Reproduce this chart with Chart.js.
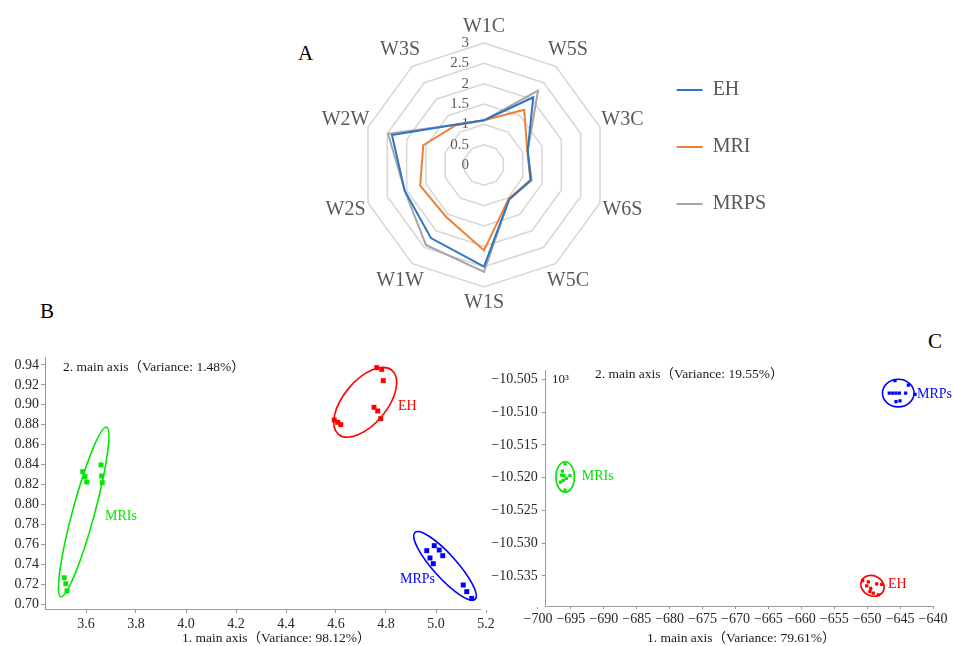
<!DOCTYPE html>
<html>
<head>
<meta charset="utf-8">
<script src="https://cdn.jsdelivr.net/npm/chart.js@4.4.1/dist/chart.umd.min.js"></script>
<style>
  html, body { margin: 0; padding: 0; background: #fff; }
  body { width: 953px; height: 646px; position: relative; overflow: hidden; font-family: "Liberation Serif", serif; }
  .panel { position: absolute; }
  .tag { position: absolute; font-size: 21px; line-height: 1; color: #000; }
</style>
</head>
<body>
<div class="tag" style="left:298px; top:43px">A</div>
<div class="tag" style="left:40px; top:301px">B</div>
<div class="tag" style="left:928px; top:331px">C</div>
<div class="panel" style="left:290px; top:0; width:490px; height:320px"><canvas id="radar"></canvas></div>
<div class="panel" style="left:0; top:330px; width:500px; height:316px"><canvas id="pcaB"></canvas></div>
<div class="panel" style="left:485px; top:330px; width:468px; height:316px"><canvas id="pcaC"></canvas></div>
<script>
// ---- panel A: radar ----
const attributes = ["W1C", "W5S", "W3C", "W6S", "W5C", "W1S", "W1W", "W2S", "W2W", "W3S"];
const ehValues   = [1.10, 2.06, 1.13, 1.21, 1.05, 2.50, 2.22, 2.05, 2.38, 1.22];
const mriValues  = [1.10, 1.68, 1.12, 1.20, 1.03, 2.10, 1.58, 1.65, 1.57, 1.20];
const mrpsValues = [1.10, 2.26, 1.13, 1.23, 1.05, 2.63, 2.43, 2.05, 2.48, 1.22];
const radarTicks = [0, 0.5, 1, 1.5, 2, 2.5, 3];

// ---- panel B: PCA ----
const bEhX  = [4.763, 4.783, 4.789, 4.752, 4.767, 4.779, 4.593, 4.607, 4.619];
const bEhY  = [0.9373, 0.9356, 0.9243, 0.8975, 0.8938, 0.8861, 0.8848, 0.8824, 0.8801];
const bMriX = [3.587, 3.596, 3.603, 3.660, 3.663, 3.665, 3.513, 3.519, 3.524];
const bMriY = [0.8329, 0.8279, 0.8225, 0.8396, 0.8285, 0.8218, 0.7264, 0.7204, 0.7131];
const bMrpX = [4.963, 4.993, 5.013, 5.027, 4.976, 4.989, 5.109, 5.123, 5.143];
const bMrpY = [0.7536, 0.7586, 0.7542, 0.7485, 0.7462, 0.7405, 0.7191, 0.7124, 0.7057];
// ellipse: centre x, centre y, then two half-axis vectors (data units)
const bEllEh  = [4.717, 0.9025, 0.107, 0.0321, 0.0664, -0.0140];
const bEllMri = [3.5907, 0.7924, 0.0915, 0.0850, 0.0425, -0.00288];
const bEllMrp = [5.036, 0.7382, 0.1204, -0.0336, -0.0347, -0.00783];
const bLabelX = [4.848, 3.676, 4.856];
const bLabelY = [0.8988, 0.7884, 0.7251];
const bXTicks = [3.6, 3.8, 4.0, 4.2, 4.4, 4.6, 4.8, 5.0, 5.2];
const bYTicks = [0.70, 0.72, 0.74, 0.76, 0.78, 0.80, 0.82, 0.84, 0.86, 0.88, 0.90, 0.92, 0.94];

// ---- panel C: PCA ----
const cEhX  = [-650.68, -649.83, -648.55, -647.79, -650.07, -649.46, -649.57, -648.31, -649.07];
const cEhY  = [-10.5357, -10.5359, -10.5362, -10.5363, -10.5365, -10.5369, -10.5374, -10.5379, -10.5376];
const cMriX = [-695.9, -696.4, -696.05, -696.16, -696.55, -695.14, -695.9, -696.3, -695.7];
const cMriY = [-10.5179, -10.5196, -10.5197, -10.5204, -10.5207, -10.5197, -10.5219, -10.5190, -10.5201];
const cMrpX = [-645.77, -643.75, -646.64, -646.12, -645.62, -645.12, -644.15, -642.73, -645.62, -645.01];
const cMrpY = [-10.5052, -10.5059, -10.5071, -10.5071, -10.5071, -10.5071, -10.5071, -10.5073, -10.5084, -10.5083];
const cEllEh  = [-649.19, -10.5365, 1.656, -0.00078, -0.638, -0.00139];
const cEllMri = [-695.87, -10.5199, 1.40, 0, 0, 0.00233];
const cEllMrp = [-645.28, -10.5071, 2.40, 0, 0, 0.0021];
const cLabelX = [-646.83, -693.36, -642.43];
const cLabelY = [-10.53622, -10.51986, -10.50724];
const cXTicks = [-700, -695, -690, -685, -680, -675, -670, -665, -660, -655, -650, -645, -640];
const cYTicks = [-10.535, -10.530, -10.525, -10.520, -10.515, -10.510, -10.505];

const groupNames = ["EH", "MRIs", "MRPs"];
const groupColors = ["#ff0000", "#00e600", "#0000ff"];

const SERIF = '"Liberation Serif", "Noto Sans CJK SC", serif';
Chart.defaults.font.family = SERIF;
Chart.defaults.animation = false;
Chart.defaults.events = [];
Chart.defaults.plugins.tooltip.enabled = false;

// tick numbers and point labels for the radar (drawn from the scale)
const radarText = {
    id: "radarText",
    beforeDatasetsDraw(chart) {
        const r = chart.scales.r, ctx = chart.ctx;
        ctx.save();
        ctx.fillStyle = "#595959";
        ctx.textBaseline = "middle";
        ctx.font = "15px " + SERIF;
        ctx.textAlign = "right";
        radarTicks.forEach(v => {
            ctx.fillText(String(v), r.xCenter - 15, r.yCenter - r.getDistanceFromCenterForValue(v));
        });
        ctx.font = "20px " + SERIF;
        ctx.textAlign = "center";
        attributes.forEach((name, i) => {
            const a = r.getIndexAngle(i);
            const p = r.getPointPosition(i, r.drawingArea + 16 + 8 * Math.abs(Math.sin(a)));
            ctx.fillText(name, p.x, p.y);
        });
        ctx.restore();
    }
};

new Chart(document.getElementById("radar"), {
    type: "radar",
    data: {
        labels: attributes,
        datasets: [
            { label: "EH", data: ehValues, borderColor: "#2f75c5", backgroundColor: "#2f75c5", borderWidth: 2, pointRadius: 0, fill: false, clip: false },
            { label: "MRI", data: mriValues, borderColor: "#f07f32", backgroundColor: "#f07f32", borderWidth: 2, pointRadius: 0, fill: false, clip: false },
            { label: "MRPS", data: mrpsValues, borderColor: "#a5a5a5", backgroundColor: "#a5a5a5", borderWidth: 2, pointRadius: 0, fill: false, clip: false },
        ],
    },
    options: {
        responsive: true,
        maintainAspectRatio: false,
        layout: { padding: { top: 43, right: 4 } },
        scales: {
            r: {
                min: 0,
                max: 3,
                ticks: { display: false, stepSize: 0.5 },
                grid: { color: "#d6d6d6", lineWidth: 1.5 },
                angleLines: { display: false },
                pointLabels: { display: false },
                // put the web where it sits in the figure
                afterFit: s => { s.xCenter = 194; s.yCenter = 165; s.drawingArea = 122; },
            },
        },
        plugins: {
            legend: {
                position: "right",
                align: "start",
                labels: {
                    usePointStyle: true,
                    pointStyle: "line",
                    pointStyleWidth: 26,
                    padding: 37,
                    color: "#595959",
                    font: { size: 20 },
                },
            },
        },
    },
    plugins: [radarText],
});

// ---- helpers for the two score plots ----
function points(xs, ys) {
    return xs.map((v, i) => ({ x: v, y: ys[i] }));
}

function scatterSet(label, xs, ys, color, radius) {
    return {
        label: label,
        data: points(xs, ys),
        backgroundColor: color,
        borderColor: color,
        borderWidth: 0,
        pointStyle: "rect",
        pointRadius: radius,
    };
}

// confidence ellipses, built in data space through the scales
function ellipsePlugin(ells) {
    return {
        id: "ellipses",
        afterDatasetsDraw(chart) {
            const { ctx, scales: { x, y } } = chart;
            ells.forEach((e, i) => {
                const cx = x.getPixelForValue(e[0]), cy = y.getPixelForValue(e[1]);
                const ux = x.getPixelForValue(e[0] + e[2]) - cx, uy = y.getPixelForValue(e[1] + e[3]) - cy;
                const vx = x.getPixelForValue(e[0] + e[4]) - cx, vy = y.getPixelForValue(e[1] + e[5]) - cy;
                ctx.save();
                ctx.beginPath();
                ctx.save();
                ctx.transform(ux, uy, vx, vy, cx, cy);
                ctx.arc(0, 0, 1, 0, 2 * Math.PI);
                ctx.restore();
                ctx.strokeStyle = groupColors[i];
                ctx.lineWidth = 1.6;
                ctx.stroke();
                ctx.restore();
            });
        },
    };
}

// group names next to clusters (data coords) and axis captions (offsets from the plot area)
function notesPlugin(labelX, labelY, captions) {
    return {
        id: "notes",
        afterDraw(chart) {
            const { ctx, chartArea, scales: { x, y } } = chart;
            ctx.save();
            ctx.textBaseline = "middle";
            ctx.textAlign = "left";
            ctx.font = "14px " + SERIF;
            groupNames.forEach((name, i) => {
                ctx.fillStyle = groupColors[i];
                ctx.fillText(name, x.getPixelForValue(labelX[i]), y.getPixelForValue(labelY[i]));
            });
            ctx.fillStyle = "#1a1a1a";
            captions.forEach(c => {
                ctx.font = c.size + "px " + SERIF;
                ctx.fillText(c.text, chartArea.left + c.dx, chartArea.top + c.dy);
            });
            ctx.restore();
        },
    };
}

function axis(min, max, tickList, digits, tickLen, pad, fitKey, fitSize) {
    return {
        type: "linear",
        min: min,
        max: max,
        afterBuildTicks: s => { s.ticks = tickList.map(v => ({ value: v })); },
        afterFit: s => { s[fitKey] = fitSize; },
        ticks: {
            autoSkip: false,
            maxRotation: 0,
            padding: pad,
            color: "#262626",
            font: { size: 14 },
            callback: v => (v < 0 ? "\u2212" : "") + Math.abs(v).toFixed(digits),
        },
        grid: { drawOnChartArea: false, tickLength: tickLen, color: "#9a9a9a" },
        border: { color: "#9a9a9a", width: 1 },
    };
}

new Chart(document.getElementById("pcaB"), {
    type: "scatter",
    data: {
        datasets: [
            scatterSet("EH", bEhX, bEhY, groupColors[0], 3.5),
            scatterSet("MRIs", bMriX, bMriY, groupColors[1], 3.5),
            scatterSet("MRPs", bMrpX, bMrpY, groupColors[2], 3.5),
        ],
    },
    options: {
        responsive: true,
        maintainAspectRatio: false,
        layout: { padding: { top: 27, right: 20 } },
        scales: {
            x: axis(3.436, 5.176, bXTicks, 1, 4, 3, "height", 37),
            y: axis(0.695, 0.948, bYTicks, 2, 4, 2, "width", 45),
        },
        plugins: { legend: { display: false } },
    },
    plugins: [
        ellipsePlugin([bEllEh, bEllMri, bEllMrp]),
        notesPlugin(bLabelX, bLabelY, [
            { text: "2. main axis（Variance: 1.48%）", dx: 18, dy: 10, size: 13.5 },
            { text: "1. main axis（Variance: 98.12%）", dx: 137, dy: 281, size: 13.5 },
        ]),
    ],
});

new Chart(document.getElementById("pcaC"), {
    type: "scatter",
    data: {
        datasets: [
            scatterSet("EH", cEhX, cEhY, groupColors[0], 2.3),
            scatterSet("MRIs", cMriX, cMriY, groupColors[1], 2.3),
            scatterSet("MRPs", cMrpX, cMrpY, groupColors[2], 2.3),
        ],
    },
    options: {
        responsive: true,
        maintainAspectRatio: false,
        layout: { padding: { top: 40, right: 20 } },
        scales: {
            x: axis(-698.83, -640.0, cXTicks, 0, 3, 2, "height", 40),
            y: axis(-10.53958, -10.50358, cYTicks, 3, 4, 4, "width", 60.7),
        },
        plugins: { legend: { display: false } },
    },
    plugins: [
        ellipsePlugin([cEllEh, cEllMri, cEllMrp]),
        notesPlugin(cLabelX, cLabelY, [
            { text: "10\u00B3", dx: 6.3, dy: 10, size: 13 },
            { text: "2. main axis（Variance: 19.55%）", dx: 49.3, dy: 4, size: 13.5 },
            { text: "1. main axis（Variance: 79.61%）", dx: 101.3, dy: 268, size: 13.5 },
        ]),
    ],
});
</script>
</body>
</html>
